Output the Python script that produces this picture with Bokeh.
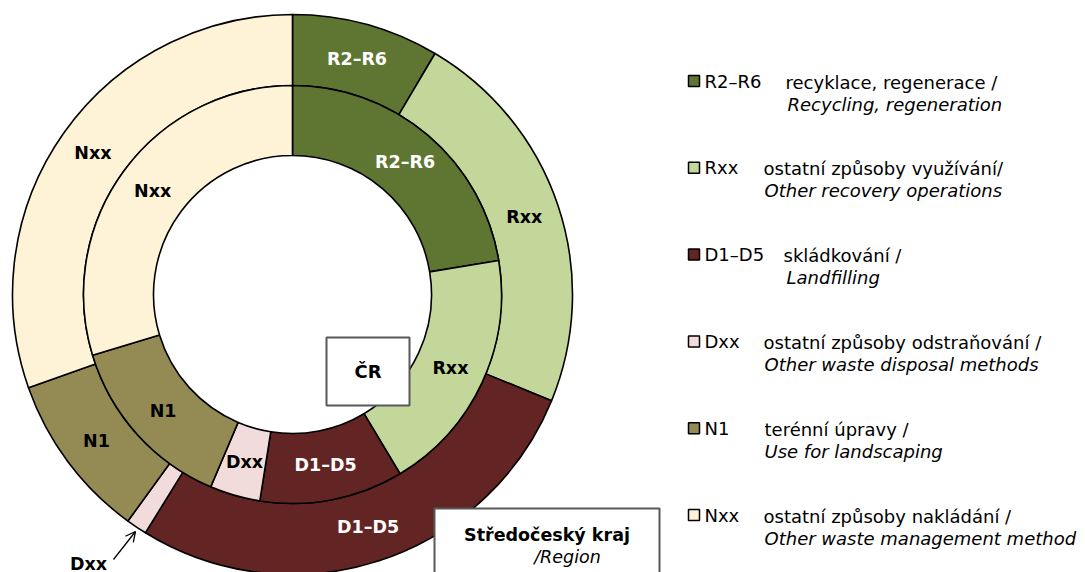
import math
from bokeh.plotting import figure
from bokeh.models import Range1d, ColumnDataSource, Arrow, OpenHead
from bokeh.core.properties import value
from bokeh.embed import file_html
from bokeh.resources import INLINE

# ---------------- data ----------------
categories = ["R2–R6", "Rxx", "D1–D5", "Dxx", "N1", "Nxx"]
cr_share = [22.4, 19.0, 11.1, 3.9, 13.9, 29.7]          # inner ring: ČR
region_share = [8.5, 22.7, 27.6, 1.2, 9.6, 30.4]        # outer ring: Středočeský kraj
desc_cz = ["recyklace, regenerace /", "ostatní způsoby využívání/", "skládkování /",
           "ostatní způsoby odstraňování /", "terénní úpravy /", "ostatní způsoby nakládání /"]
desc_en = ["Recycling, regeneration", "Other recovery operations", "Landfilling",
           "Other waste disposal methods", "Use for landscaping", "Other waste management method"]
colors = ["#5F7632", "#C4D79B", "#632523", "#F2DCDB", "#948A54", "#FEF3D6"]
label_colors = ["white", "black", "white", "black", "black", "black"]
inner_title = "ČR"
outer_title = "Středočeský kraj"
outer_subtitle = "/Region"

# ---------------- layout ----------------
W, H = 1085, 572
def Y(ry):
    return H - ry

CX, CY = 292, Y(294)
R_HOLE, R_MID, R_OUT = 139, 209, 280
FONT = "DejaVu Sans"
LBL = "17.5px"

p = figure(width=W, height=H, x_range=Range1d(0, W), y_range=Range1d(0, H),
           output_backend="svg", toolbar_location=None, min_border=0,
           x_axis_type=None, y_axis_type=None)
p.grid.visible = False
p.outline_line_color = None
p.background_fill_color = "white"
p.border_fill_color = "white"


def ring(shares, r_in, r_out, hide_labels=()):
    total = float(sum(shares))
    starts, ends, lx, ly, txt, tcol = [], [], [], [], [], []
    acc = 0.0
    rm = (r_in + r_out) / 2.0
    for i, s in enumerate(shares):
        a0 = acc / total
        acc += s
        a1 = acc / total
        starts.append(math.pi / 2 - 2 * math.pi * a0)
        ends.append(math.pi / 2 - 2 * math.pi * a1)
        mid = math.pi / 2 - 2 * math.pi * (a0 + a1) / 2
        if categories[i] not in hide_labels:
            lx.append(CX + rm * math.cos(mid))
            ly.append(CY + rm * math.sin(mid))
            txt.append(categories[i])
            tcol.append(label_colors[i])
    src = ColumnDataSource(dict(start=starts, end=ends, color=colors))
    p.annular_wedge(x=CX, y=CY, inner_radius=r_in, outer_radius=r_out,
                    start_angle="start", end_angle="end", direction="clock",
                    fill_color="color", line_color="black", line_width=1.6, source=src)
    lsrc = ColumnDataSource(dict(x=lx, y=ly, t=txt, c=tcol))
    p.text(x="x", y="y", text="t", text_color="c", source=lsrc,
           text_font=value(FONT), text_font_style="bold", text_font_size=LBL,
           text_align="center", text_baseline="middle")


ring(region_share, R_MID, R_OUT, hide_labels=("Dxx",))
ring(cr_share, R_HOLE, R_MID)

# outer Dxx callout
p.add_layout(Arrow(end=OpenHead(size=10, line_width=1.3, line_color="black"),
                   x_start=113, y_start=Y(559), x_end=135, y_end=Y(531),
                   line_width=1.3, line_color="black"))
p.text(x=[88], y=[Y(563)], text=["Dxx"], text_font=value(FONT), text_font_style="bold",
       text_font_size=LBL, text_align="center", text_baseline="middle", text_color="black")

# ČR box
p.rect(x=[367.5], y=[Y(371)], width=83, height=68, fill_color="white",
       line_color="#595959", line_width=2)
p.text(x=[367.5], y=[Y(371)], text=[inner_title], text_font=value(FONT), text_font_style="bold",
       text_font_size="18px", text_align="center", text_baseline="middle", text_color="black")

# Region box
p.quad(left=[434], right=[659], top=[Y(508)], bottom=[-20], fill_color="white",
       line_color="#595959", line_width=2)
p.text(x=[546.5], y=[Y(534)], text=[outer_title], text_font=value(FONT), text_font_style="bold",
       text_font_size=LBL, text_align="center", text_baseline="middle", text_color="black")
p.text(x=[567], y=[Y(556)], text=[outer_subtitle], text_font=value(FONT), text_font_style="italic",
       text_font_size="17.5px", text_align="center", text_baseline="middle", text_color="black")

# ---------------- legend ----------------
row_y = [80.5 + i * 86.8 for i in range(len(categories))]
desc_x = [785, 763, 783, 763, 764, 763]
desc2_x = [787, 764, 786, 764, 764, 764]
p.rect(x=[693.5] * len(categories), y=[Y(r) for r in row_y], width=11, height=11,
       fill_color=colors, line_color="black", line_width=1.5)
p.text(x=[704] * len(categories), y=[Y(r) for r in row_y], text=categories,
       text_font=value(FONT), text_font_size="18px", text_align="left",
       text_baseline="middle", text_color="black")
p.text(x=desc_x, y=[Y(r + 1) for r in row_y], text=desc_cz,
       text_font=value(FONT), text_font_size="18px", text_align="left",
       text_baseline="middle", text_color="black")
p.text(x=desc2_x, y=[Y(r + 23) for r in row_y], text=desc_en,
       text_font=value(FONT), text_font_style="italic", text_font_size="18px",
       text_align="left", text_baseline="middle", text_color="black")

open("out.html", "w").write(file_html(p, INLINE))
